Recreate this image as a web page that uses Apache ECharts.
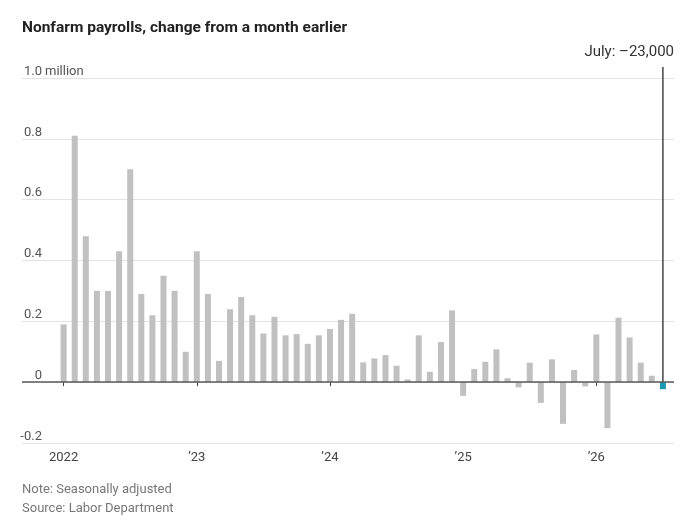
<!DOCTYPE html>
<html lang="en">
<head>
    <meta charset="UTF-8">
    <title>Nonfarm payrolls</title>
    <style>
        html, body {
            margin: 0;
            padding: 0;
            background: #ffffff;
        }
        #main {
            width: 700px;
            height: 525px;
        }
    </style>
    <script type="text/javascript" src="https://cdn.jsdelivr.net/npm/echarts@6/dist/echarts.min.js"></script>
</head>
<body>
<div id="main"></div>
<script type="text/javascript">
    // monthly change, millions of jobs, Jan 2022 .. Jul 2026
    var payrolls = [
        0.19, 0.81, 0.48, 0.30, 0.30, 0.43, 0.70, 0.29, 0.22, 0.35, 0.30, 0.10,
        0.43, 0.29, 0.07, 0.24, 0.28, 0.22, 0.16, 0.215, 0.154, 0.158, 0.126, 0.154,
        0.175, 0.205, 0.225, 0.065, 0.078, 0.089, 0.054, 0.009, 0.154, 0.034, 0.132, 0.236,
        -0.045, 0.043, 0.067, 0.108, 0.013, -0.017, 0.064, -0.068, 0.075, -0.137, 0.04, -0.014,
        0.157, -0.151, 0.212, 0.147, 0.064, 0.021, -0.023
    ];
    var yearTicks = [0, 12, 24, 36, 48];
    var yearLabels = ['2022', '\u201923', '\u201924', '\u201925', '\u201926'];
    var latestLabel = 'July: \u201323,000';
    var notes = ['Note: Seasonally adjusted', 'Source: Labor Department'];

    var font = 'Roboto';
    var last = payrolls.length - 1;

    var barData = payrolls.map(function (v, i) {
        var item = {value: [i, v]};
        if (i === last) {
            item.itemStyle = {color: '#1a98b2'};
        }
        return item;
    });

    var chart = echarts.init(document.getElementById('main'));
    var option = {
        animation: false,
        title: {
            text: 'Nonfarm payrolls, change from a month earlier',
            left: 17,
            top: 15,
            textStyle: {
                fontFamily: font,
                fontSize: 15.5,
                fontWeight: 'bold',
                color: '#222'
            }
        },
        grid: {
            left: 22,
            right: 26,
            top: 78,
            bottom: 82,
            containLabel: false
        },
        xAxis: {
            type: 'value',
            min: -3.75,
            max: 55,
            axisLine: {show: false},
            splitLine: {show: false},
            axisTick: {
                show: true,
                customValues: yearTicks,
                length: 4,
                lineStyle: {color: '#444', width: 1}
            },
            axisLabel: {
                customValues: yearTicks,
                margin: 8,
                fontFamily: font,
                fontSize: 13,
                color: '#444',
                formatter: function (v) {
                    var k = yearTicks.indexOf(Math.round(v));
                    return k >= 0 ? yearLabels[k] : '';
                }
            }
        },
        yAxis: {
            type: 'value',
            min: -0.2,
            max: 1.0,
            interval: 0.2,
            axisLine: {show: false},
            axisTick: {show: false},
            splitLine: {
                show: true,
                lineStyle: {color: '#e3e3e3', width: 1}
            },
            axisLabel: {
                margin: -20,
                align: 'right',
                verticalAlign: 'bottom',
                fontFamily: font,
                fontSize: 13,
                color: '#555',
                formatter: function (v) {
                    if (Math.abs(v) < 1e-9) return '0';
                    return v.toFixed(1);
                }
            }
        },
        series: [{
            type: 'bar',
            data: barData,
            barWidth: 6,
            itemStyle: {color: '#c0c0c0'},
            markLine: {
                silent: true,
                symbol: 'none',
                label: {show: false},
                lineStyle: {color: '#5a5a5a', width: 1.6, type: 'solid'},
                data: [{yAxis: 0}]
            }
        }]
    };
    chart.setOption(option);

    // annotation line, label and footnotes placed with the chart's own scales
    var pTop = chart.convertToPixel({seriesIndex: 0}, [last, 1.0]);
    var pZero = chart.convertToPixel({seriesIndex: 0}, [last, 0]);
    var pMax = chart.convertToPixel({seriesIndex: 0}, [55, 1.0]);
    chart.setOption({
        graphic: [
            {
                type: 'line',
                z: 1,
                shape: {x1: pZero[0], y1: pTop[1] - 11, x2: pZero[0], y2: pZero[1]},
                style: {stroke: '#444', lineWidth: 1.5}
            },
            {
                type: 'text',
                x: pMax[0],
                y: pTop[1] - 26,
                style: {
                    text: latestLabel,
                    fontFamily: font,
                    fontSize: 15,
                    fill: '#333',
                    align: 'right',
                    verticalAlign: 'middle'
                }
            },
            {
                type: 'text',
                x: 45,
                y: pTop[1],
                style: {
                    text: 'million',
                    fontFamily: font,
                    fontSize: 13,
                    fill: '#555',
                    align: 'left',
                    verticalAlign: 'bottom'
                }
            },
            {
                type: 'text',
                left: 22,
                top: 480,
                style: {
                    text: notes.join('\n'),
                    fontFamily: font,
                    fontSize: 13,
                    lineHeight: 19,
                    fill: '#777'
                }
            }
        ]
    });
</script>
</body>
</html>
